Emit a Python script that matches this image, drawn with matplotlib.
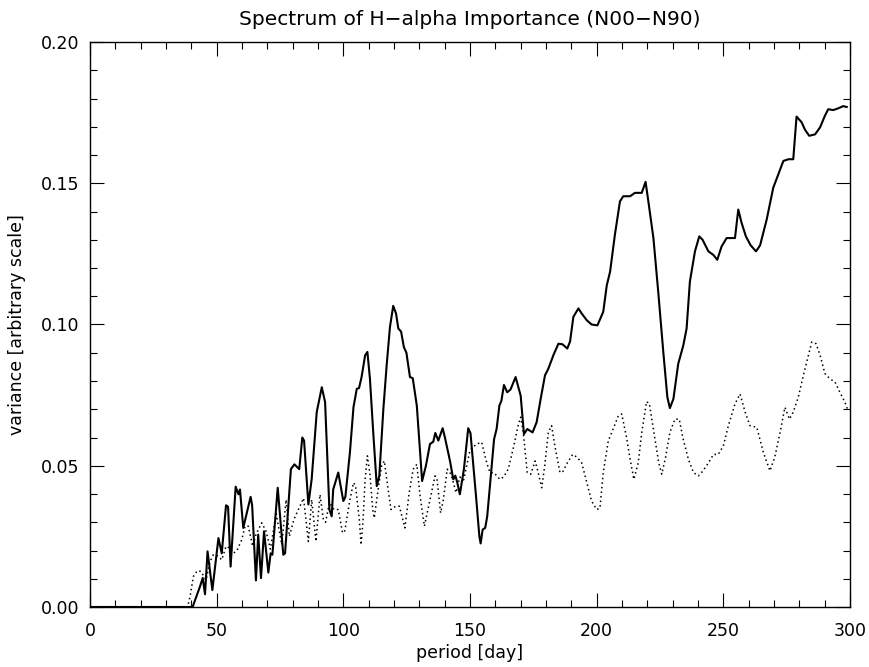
import numpy as np
import matplotlib
matplotlib.use("Agg")
import matplotlib.pyplot as plt
from matplotlib.ticker import MultipleLocator

plt.rcParams.update({"font.family": "DejaVu Sans", "font.size": 12})

# solid curve: period (day) vs variance
solid_day = [0, 40.5, 43.4, 44.5, 45.4, 46.4, 48.3, 50.7, 52.0, 53.7, 54.5, 55.5, 57.5, 58.6, 59.2,
             60.5, 63.4, 64.0, 65.5, 66.4, 67.5, 68.7, 70.4, 71.3, 72.0, 74.1, 76.3, 77.0, 79.3, 80.7,
             82.6, 83.8, 84.5, 86.2, 87.5, 89.5, 91.5, 92.8, 93.7, 94.5, 95.4, 96.0, 98.0, 100.0, 100.8,
             102.6, 104.0, 105.3, 106.2, 107.2, 108.6, 109.5, 110.5, 111.8, 113.2, 114.2, 115.8, 117.1,
             118.4, 119.7, 120.8, 121.7, 122.8, 123.9, 124.9, 126.3, 127.4, 129.0, 130.3, 131.1, 132.6,
             134.2, 135.5, 136.3, 137.5, 139.2, 140.1, 142.1, 143.4, 144.2, 145.0, 146.0, 147.6, 149.3,
             150.2, 152.3, 153.7, 154.2, 155.0, 156.0, 156.8, 158.2, 159.5, 160.5, 161.6, 162.4, 163.4,
             164.7, 166.0, 168.0, 170.0, 171.3, 172.6, 173.5, 174.7, 176.3, 177.9, 179.6, 180.9, 182.9,
             184.9, 186.5, 188.4, 189.5, 190.8, 192.8, 194.0, 196.1, 198.0, 200.3, 202.6, 204.0, 205.3,
             207.2, 209.2, 210.5, 213.2, 215.1, 217.8, 219.3, 220.4, 222.4, 224.3, 226.3, 227.9, 228.9,
             230.3, 232.2, 234.2, 235.5, 236.8, 238.8, 240.5, 241.8, 244.1, 246.1, 247.6, 249.3, 251.3,
             254.6, 255.9, 257.2, 258.9, 260.8, 262.9, 264.5, 267.1, 269.7, 271.7, 273.7, 275.7, 277.6,
             278.9, 280.9, 282.2, 283.9, 286.2, 288.2, 290.1, 291.4, 293.4, 295.3, 297.3, 298.7]
solid_val = [0, 0, 0.0072, 0.0103, 0.0045, 0.0197, 0.006, 0.0244, 0.019, 0.036, 0.0355, 0.0143, 0.0426,
             0.0399, 0.0416, 0.028, 0.039, 0.036, 0.0094, 0.0256, 0.0102, 0.0268, 0.0122, 0.019, 0.0185,
             0.0422, 0.0185, 0.019, 0.0488, 0.0505, 0.0488, 0.060, 0.0589, 0.0363, 0.0452, 0.069, 0.0778,
             0.0725, 0.0523, 0.0345, 0.0321, 0.0416, 0.0476, 0.0375, 0.039, 0.0547, 0.0707, 0.0772, 0.0775,
             0.0814, 0.0891, 0.0903, 0.0808, 0.0618, 0.0428, 0.0464, 0.0701, 0.0855, 0.0991, 0.1066,
             0.1039, 0.0986, 0.0975, 0.092, 0.090, 0.0814, 0.081, 0.0713, 0.0547, 0.0446, 0.050, 0.0577,
             0.0585, 0.0616, 0.0589, 0.0633, 0.060, 0.0517, 0.0452, 0.0465, 0.044, 0.0399, 0.0488, 0.0633,
             0.0615, 0.040, 0.025, 0.0225, 0.0274, 0.028, 0.0321, 0.0464, 0.0594, 0.063, 0.0713, 0.073,
             0.0786, 0.076, 0.077, 0.0814, 0.0748, 0.0612, 0.063, 0.0625, 0.0618, 0.0654, 0.0737, 0.082,
             0.0843, 0.0891, 0.0932, 0.093, 0.0915, 0.094, 0.1027, 0.1057, 0.104, 0.1015, 0.100, 0.0997,
             0.1045, 0.1139, 0.1187, 0.1318, 0.1436, 0.1454, 0.1454, 0.1466, 0.1466, 0.1505, 0.1436,
             0.1306, 0.1116, 0.0903, 0.0743, 0.0704, 0.0737, 0.0861, 0.0926, 0.0986, 0.1152, 0.1259,
             0.1312, 0.130, 0.1259, 0.1246, 0.1229, 0.1276, 0.1306, 0.1306, 0.1407, 0.136, 0.1312, 0.128,
             0.1259, 0.128, 0.1371, 0.1484, 0.1531, 0.1579, 0.1585, 0.1585, 0.1736, 0.1716, 0.169, 0.1668,
             0.1673, 0.1698, 0.1739, 0.1762, 0.1759, 0.1765, 0.1773, 0.177]

# dotted curve
dot_day = [0, 38.5, 39.5, 40.8, 42.3, 43.8, 45.8, 47.4, 48.7, 50.2, 52.0, 53.7, 54.8, 56.6, 58.0, 59.9,
           61.2, 62.5, 64.2, 65.5, 67.8, 69.5, 71.2, 73.5, 75.7, 77.4, 78.7, 80.5, 82.5, 84.3, 86.2,
           87.5, 89.2, 90.8, 92.1, 93.0, 94.5, 96.3, 98.0, 99.7, 100.6, 102.6, 104.0, 104.8, 106.3,
           107.0, 107.8, 108.6, 109.5, 110.5, 111.6, 112.2, 113.5, 115.1, 116.2, 117.0, 118.8, 120.4,
           122.1, 124.3, 126.0, 127.6, 129.0, 130.3, 132.0, 133.5, 136.2, 137.0, 138.4, 139.5, 141.0,
           142.5, 144.5, 146.0, 147.5, 150.0, 152.6, 154.6, 156.6, 157.9, 159.5, 161.8, 163.2, 165.1,
           167.0, 169.0, 170.0, 171.0, 172.6, 174.0, 175.7, 176.8, 178.3, 179.5, 180.9, 182.2, 183.5,
           185.5, 186.7, 188.4, 190.5, 192.3, 194.1, 196.1, 198.0, 200.0, 201.3, 202.6, 204.6, 206.5,
           208.6, 209.9, 211.8, 213.2, 214.7, 216.4, 217.8, 219.7, 220.8, 223.0, 224.5, 225.7, 227.2,
           228.9, 230.9, 232.6, 234.0, 236.2, 238.2, 240.1, 241.8, 244.1, 246.1, 248.0, 250.0, 252.0,
           254.6, 256.6, 258.6, 260.5, 263.2, 265.8, 268.4, 270.3, 272.4, 274.3, 276.1, 277.6, 279.6,
           281.6, 283.6, 284.9, 286.6, 288.2, 290.1, 292.1, 294.1, 296.0, 298.0, 299.0]
dot_val = [0, 0, 0.0037, 0.0108, 0.0128, 0.0126, 0.0096, 0.0161, 0.0185, 0.0182, 0.0167, 0.0215, 0.021,
           0.019, 0.020, 0.0238, 0.0286, 0.0286, 0.0215, 0.0256, 0.0298, 0.0268, 0.0205, 0.033, 0.022,
           0.038, 0.025, 0.031, 0.035, 0.0385, 0.0232, 0.038, 0.0232, 0.0398, 0.031, 0.030, 0.037,
           0.0345, 0.0345, 0.0262, 0.027, 0.038, 0.044, 0.043, 0.031, 0.022, 0.031, 0.0452, 0.0535,
           0.047, 0.0345, 0.0315, 0.040, 0.050, 0.0517, 0.046, 0.0345, 0.0355, 0.0357, 0.028, 0.0405,
           0.0488, 0.0505, 0.0393, 0.0286, 0.035, 0.0464, 0.045, 0.0333, 0.038, 0.0488, 0.047, 0.0405,
           0.046, 0.045, 0.0555, 0.0577, 0.0583, 0.051, 0.0476, 0.0475, 0.0452, 0.046, 0.0488, 0.0559,
           0.0642, 0.0672, 0.062, 0.0476, 0.047, 0.0517, 0.048, 0.0422, 0.050, 0.0618, 0.0642, 0.057,
           0.0476, 0.048, 0.051, 0.054, 0.053, 0.051, 0.044, 0.0375, 0.0345, 0.035, 0.0476, 0.0589,
           0.063, 0.0678, 0.0683, 0.060, 0.0523, 0.0452, 0.051, 0.0618, 0.0727, 0.072, 0.0594, 0.051,
           0.047, 0.053, 0.0618, 0.0665, 0.0665, 0.060, 0.0523, 0.0476, 0.0464, 0.048, 0.051, 0.054,
           0.054, 0.057, 0.0642, 0.0719, 0.0754, 0.069, 0.0642, 0.0636, 0.0547, 0.0482, 0.053, 0.0618,
           0.0707, 0.0665, 0.069, 0.0743, 0.082, 0.0891, 0.0938, 0.0932, 0.0891, 0.0826, 0.0808,
           0.0796, 0.076, 0.0725, 0.070]

fig = plt.figure(figsize=(8.7, 6.67), dpi=100)
ax = fig.add_axes([90 / 870, 60 / 667, 760 / 870, 565 / 667])

ax.plot(dot_day, dot_val, color="black", lw=1.1, ls=(0, (1, 2)))
ax.plot(solid_day, solid_val, color="black", lw=1.5)

ax.set_xlim(0, 300)
ax.set_ylim(0, 0.20)
ax.xaxis.set_major_locator(MultipleLocator(50))
ax.xaxis.set_minor_locator(MultipleLocator(10))
ax.yaxis.set_major_locator(MultipleLocator(0.05))
ax.yaxis.set_minor_locator(MultipleLocator(0.01))
ax.yaxis.set_major_formatter(matplotlib.ticker.FormatStrFormatter("%.2f"))
ax.tick_params(which="both", direction="in", top=True, right=True, width=0.8, labelsize=12.5)
ax.tick_params(which="major", length=10)
ax.tick_params(axis="x", which="major", pad=11)
ax.tick_params(axis="y", which="major", pad=8)
ax.tick_params(which="minor", length=5)
for s in ax.spines.values():
    s.set_linewidth(1.0)

ax.set_title("Spectrum of H\u2212alpha Importance (N00\u2212N90)", fontsize=14.5, pad=12)
ax.set_xlabel("period [day]", fontsize=12.5, labelpad=3)
ax.set_ylabel("variance [arbitrary scale]", fontsize=12.5, labelpad=10)

fig.savefig("out.png", dpi=100)
